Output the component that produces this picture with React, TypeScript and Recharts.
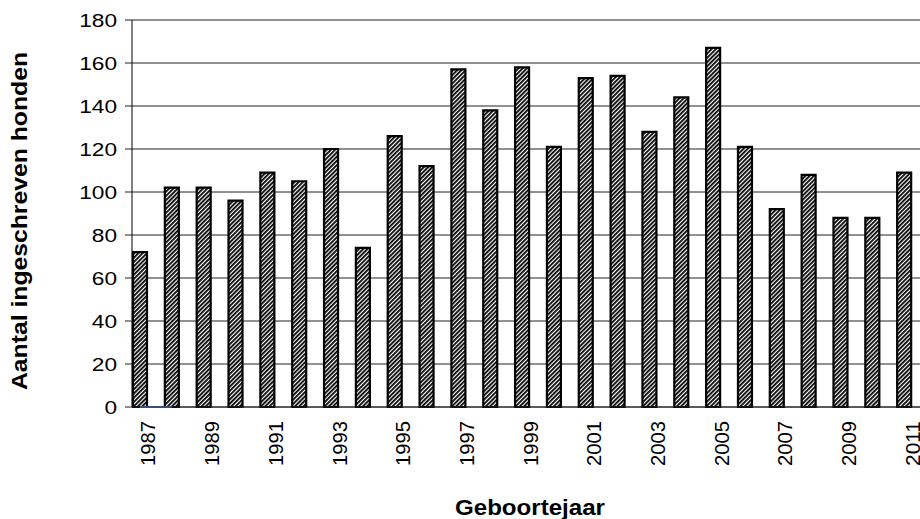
import { ComposedChart, Bar, Line, XAxis, YAxis, CartesianGrid, Label } from "recharts";

const years = [
  "1987", "1988", "1989", "1990", "1991", "1992", "1993", "1994", "1995", "1996",
  "1997", "1998", "1999", "2000", "2001", "2002", "2003", "2004", "2005", "2006",
  "2007", "2008", "2009", "2010", "2011",
];
const honden = [72, 102, 102, 96, 109, 105, 120, 74, 126, 112, 157, 138, 158, 121, 153, 154, 128, 144, 167, 121, 92, 108, 88, 88, 109];
// tiny blue helper series that only shows between the first two bars
const hulplijn = [0, 0];
const yTicks = [0, 20, 40, 60, 80, 100, 120, 140, 160, 180];

const rows = years.map((jaar, i) => ({
  jaar,
  honden: honden[i],
  hulp: i < hulplijn.length ? hulplijn[i] : null,
}));

const FONT = "'Liberation Sans', Arial, sans-serif";

function YTick({ x, y, payload }: any) {
  const s = String(payload.value);
  return (
    <text
      x={x}
      y={y}
      dy="0.36em"
      textAnchor="end"
      fontFamily={FONT}
      fontSize={19}
      fill="#000"
      textLength={s.length * 12.6}
      lengthAdjust="spacingAndGlyphs"
    >
      {s}
    </text>
  );
}

function XTick({ x, y, payload }: any) {
  return (
    <text
      transform={`translate(${x + 8},${y + 6}) rotate(-90)`}
      dy="0.36em"
      textAnchor="end"
      fontFamily={FONT}
      fontSize={21}
      fill="#000"
      textLength={45}
      lengthAdjust="spacingAndGlyphs"
    >
      {payload.value}
    </text>
  );
}

export default function App() {
  return (
    <div style={{ position: "absolute", left: 0, top: 0, background: "#fff" }}>
      <ComposedChart
        width={920}
        height={519}
        data={rows}
        margin={{ top: 20, right: 0, bottom: 0, left: 0 }}
      >
        <defs>
          <pattern
            id="hatch"
            patternUnits="userSpaceOnUse"
            width={3}
            height={3}
            patternTransform="rotate(45)"
          >
            <rect width={3} height={3} fill="#fff" />
            <line x1={0.9} y1={0} x2={0.9} y2={3} stroke="#000" strokeWidth={1.8} />
          </pattern>
        </defs>
        <CartesianGrid vertical={false} stroke="#222" strokeWidth={1} />
        <XAxis
          dataKey="jaar"
          interval={1}
          padding={{ left: -8, right: 0 }}
          tickLine={false}
          axisLine={{ stroke: "#222", strokeWidth: 1 }}
          tick={<XTick />}
          height={112}
        >
          <Label
            content={() => (
              <text
                x={530}
                y={515}
                textAnchor="middle"
                fontFamily={FONT}
                fontSize={22}
                fontWeight="bold"
                fill="#000"
                textLength={150}
                lengthAdjust="spacingAndGlyphs"
              >
                Geboortejaar
              </text>
            )}
          />
        </XAxis>
        <YAxis
          width={132}
          domain={[0, 180]}
          ticks={yTicks}
          interval={0}
          tickSize={7}
          tickMargin={8}
          tickLine={{ stroke: "#222" }}
          axisLine={{ stroke: "#000", strokeWidth: 1 }}
          tick={<YTick />}
        >
          <Label
            content={() => (
              <text
                transform="translate(27,221) rotate(-90)"
                textAnchor="middle"
                fontFamily={FONT}
                fontSize={22}
                fontWeight="bold"
                fill="#000"
                textLength={338}
                lengthAdjust="spacingAndGlyphs"
              >
                Aantal ingeschreven honden
              </text>
            )}
          />
        </YAxis>
        <Bar
          dataKey="honden"
          fill="url(#hatch)"
          stroke="#000"
          strokeWidth={2.2}
          barSize={14}
          isAnimationActive={false}
        />
        <Line
          dataKey="hulp"
          stroke="#4a7ebb"
          strokeWidth={2}
          dot={false}
          connectNulls={false}
          isAnimationActive={false}
        />
      </ComposedChart>
    </div>
  );
}
